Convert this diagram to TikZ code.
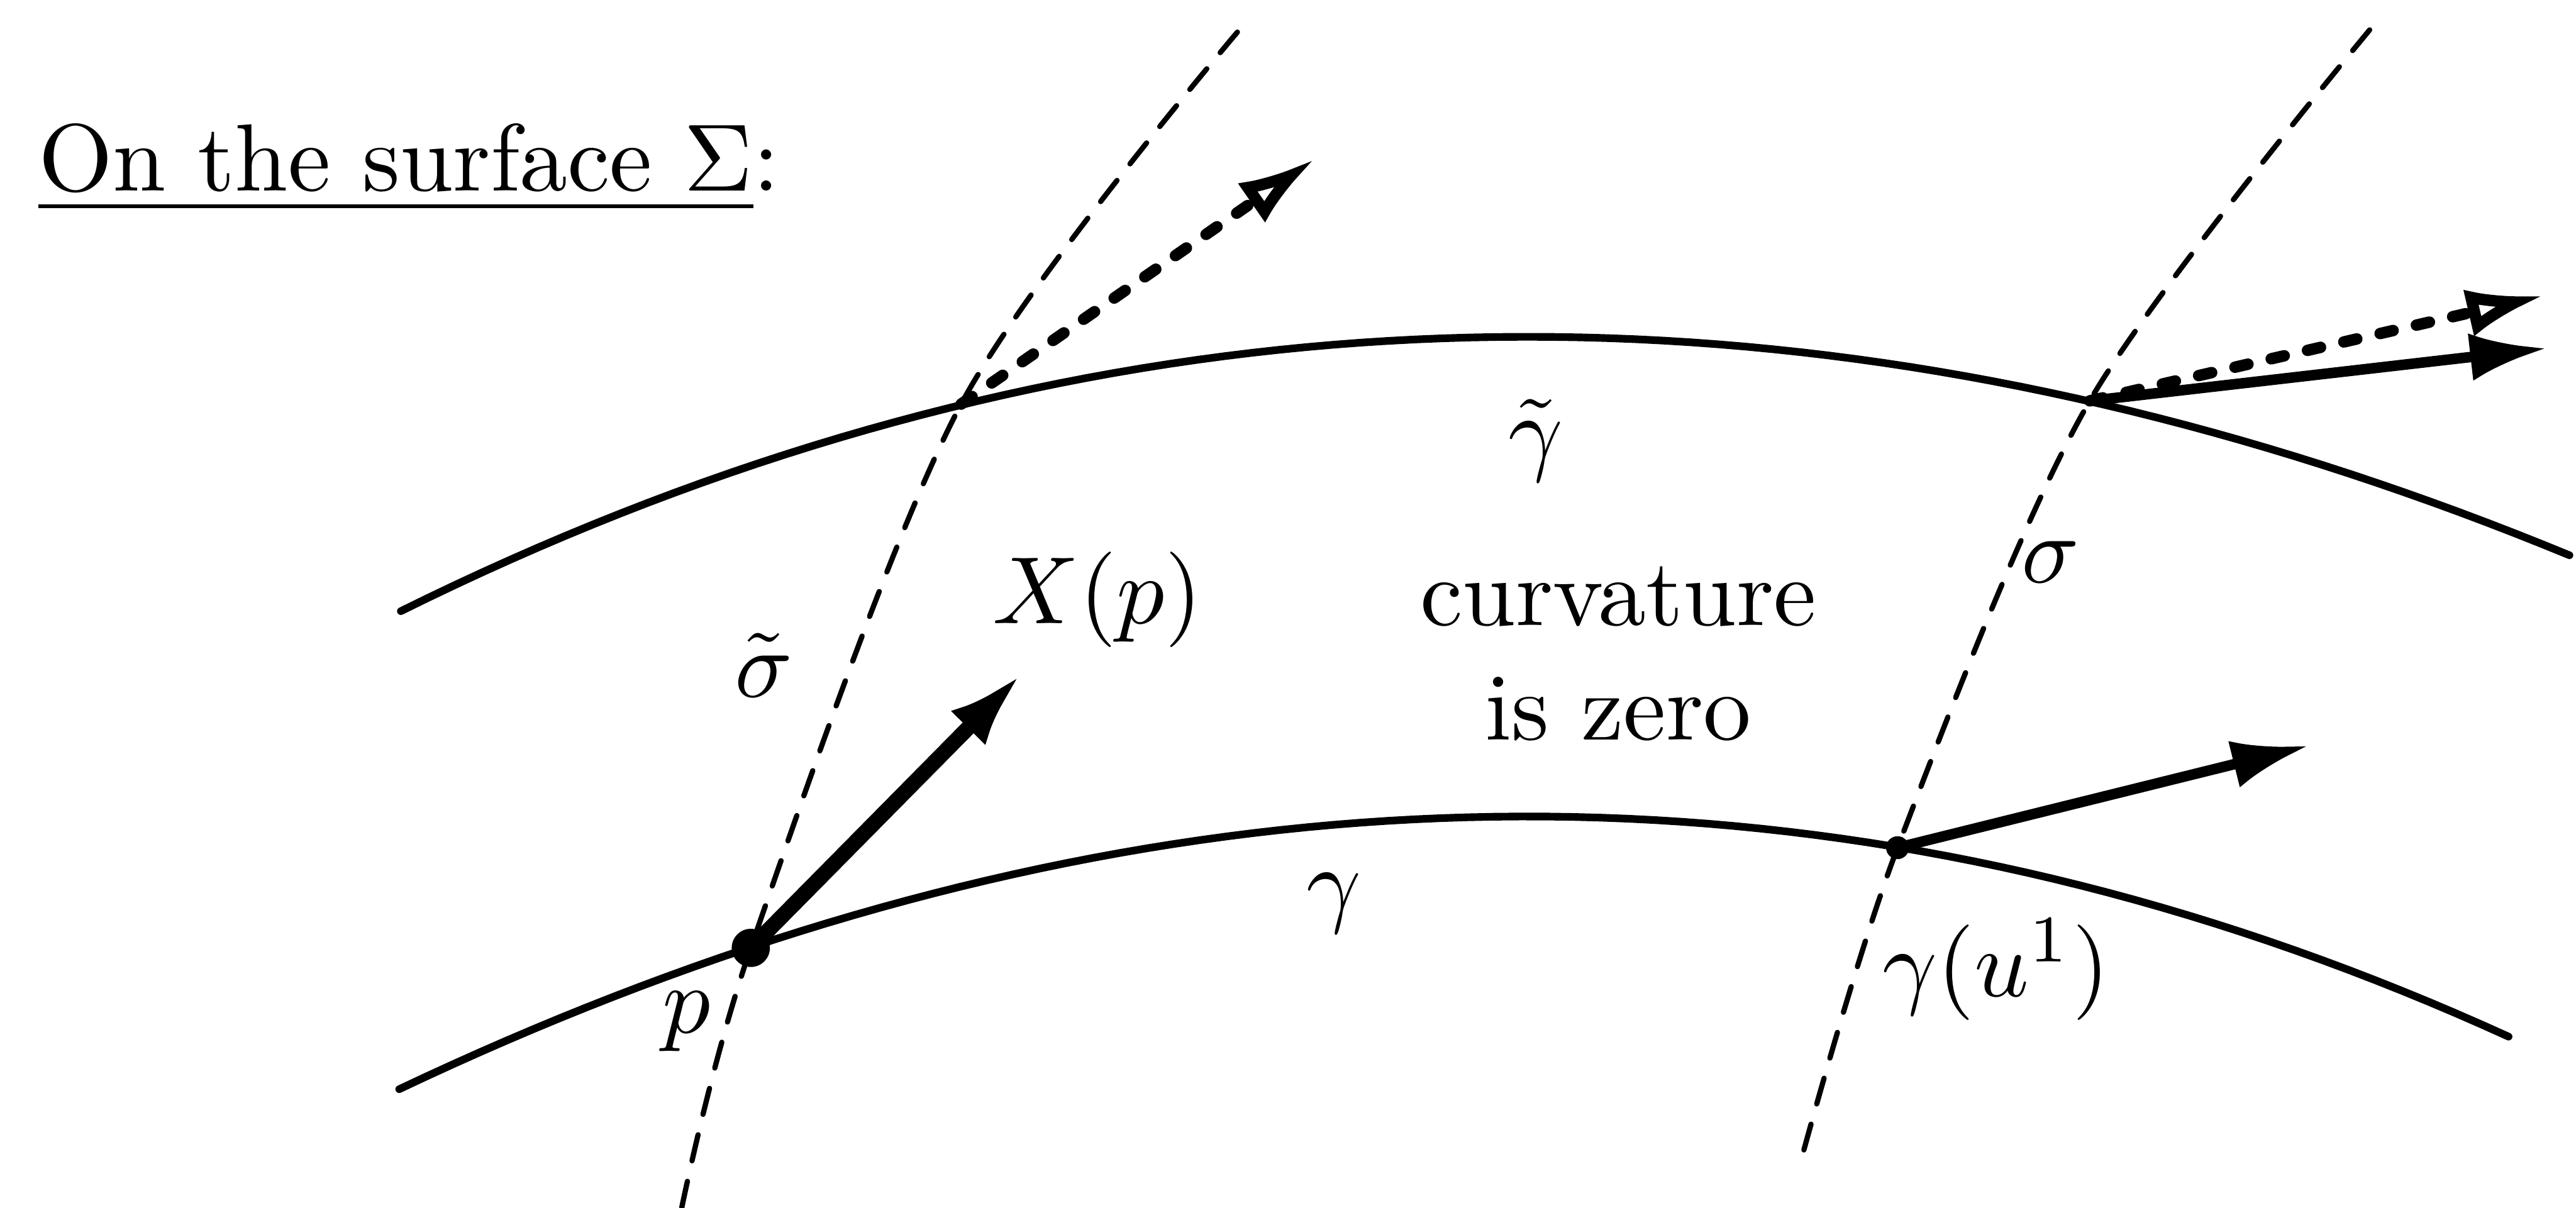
\documentclass[tikz,border=0pt]{standalone}
\usetikzlibrary{arrows.meta}
\begin{document}
\begin{tikzpicture}[line cap=round, line join=round, >={Latex[length=8pt,width=5pt]}, x=0.172pt, y=-0.172pt]
	\tikzset{curve/.style={line width=0.8pt},
		geod/.style={line width=0.55pt, dash pattern=on 2.8pt off 2.2pt},
		vec/.style={->, line width=1.1pt},
		transp/.style={-{Latex[open,length=8pt,width=5pt]}, line width=1.2pt, dash pattern=on 1.4pt off 2.5pt}}
	\useasboundingbox (0,0) rectangle (1568,735);
	\node[anchor=base west] (title) at (3,116) {\underline{On the surface $\Sigma$}:};
	\coordinate (p) at (457,577);
	\coordinate (q) at (1155,516);
	\coordinate (pt) at (585,246);
	\coordinate (qt) at (1272,244);
	\draw[curve] plot[domain=-6.86:6.34, samples=80, variable=\t] ({930+100*\t}, {205+3.424*\t*\t-0.0182*\t*\t*\t});
	\draw[curve] plot[domain=-6.87:5.97, samples=80, variable=\t] ({930+100*\t}, {497+3.648*\t*\t+0.019*\t*\t*\t});
	\draw[geod] plot[smooth] coordinates {(415,735) (p) (pt) (757,15)};
	\draw[geod] plot[smooth] coordinates {(1098,700) (q) (qt) (1445,15)};
	\coordinate (Xp) at (622,410);
	\coordinate (Yq) at (1405,454);
	\coordinate (Yqt) at (1550,212);
	\coordinate (Zpt) at (800,97);
	\coordinate (Zqt) at (1548,180);
	\draw[vec, line width=1.6pt] (p) -- (Xp);
	\draw[vec] (q) -- (Yq);
	\draw[vec] (qt) -- (Yqt);
	\draw[transp] (pt) -- (Zpt);
	\draw[transp] (qt) -- (Zqt);
	\fill (p) circle (2pt);
	\fill (q) circle (1.2pt);
	\node (gt) at (935,268) {$\tilde{\gamma}$};
	\node (st) at (465,405) {$\tilde{\sigma}$};
	\node (Xl) at (668,365) {$X(p)$};
	\node[align=center] (cz) at (985,398) {curvature\\is zero};
	\node (sl) at (1248,342) {$\sigma$};
	\node (gl) at (812,550) {$\gamma$};
	\node (pl) at (418,622) {$p$};
	\node (ql) at (1215,590) {$\gamma(u^1)$};
\end{tikzpicture}
\end{document}
